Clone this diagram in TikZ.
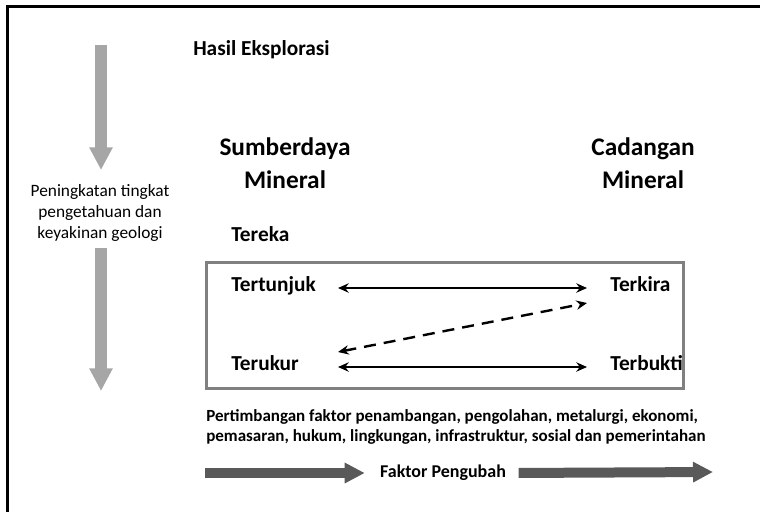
\documentclass[tikz,border=0pt]{standalone}
\usepackage{fontspec}
\setmainfont{Carlito}
\usetikzlibrary{calc,arrows.meta,positioning}

\begin{document}
\begin{tikzpicture}[x=0.75pt,y=-0.75pt,
    label/.style={font=\bfseries\fontsize{16}{19}\selectfont, inner sep=0pt, text height=1.5ex, text depth=.3ex},
    title/.style={font=\bfseries\fontsize{19}{24.75}\selectfont, align=center},
    link/.style={line width=1.8pt, {Stealth[length=8pt,width=7pt]}-{Stealth[length=8pt,width=7pt]}},
    downarrow/.style={line width=9pt, draw=gray!70, -{Triangle[length=17pt,width=16.5pt]}},
    factorarrow/.style={line width=7.5pt, draw=black!65, -{Triangle[length=15pt,width=14.5pt]}}]
    \useasboundingbox (0,0) rectangle (760,512);
    \draw[line width=2.25pt] (760,6) -- (7,6) -- (7,512);

    \node[font=\fontsize{13}{15.75}\selectfont, align=center] (knowledge) at (100,213) {Peningkatan tingkat\\pengetahuan dan\\keyakinan geologi};
    \coordinate (top1) at (101,45);
    \coordinate (tip1) at (101,170);
    \coordinate (top2) at (101,248);
    \coordinate (tip2) at (101,391);
    \draw[downarrow] (top1) -- (tip1);
    \draw[downarrow] (top2) -- (tip2);

    \node[font=\bfseries\fontsize{16}{19}\selectfont, anchor=west, inner sep=0pt] (hasil) at (193,50) {Hasil Eksplorasi};
    \node[title] (sumber) at (285,163) {Sumberdaya\\Mineral};
    \node[title] (cadangan) at (643,163) {Cadangan\\Mineral};
    \node[label, anchor=west] (tereka) at (231,238) {Tereka};

    \draw[line width=2.25pt, draw=black!50] (206,262) rectangle (683,388);
    \node[label, anchor=west] (tertunjuk) at (231,288) {Tertunjuk};
    \node[label, anchor=west] (terkira) at (610,288) {Terkira};
    \node[label, anchor=west] (terukur) at (231,367) {Terukur};
    \node[label, anchor=west] (terbukti) at (610,367) {Terbukti};

    \draw[link] ($(tertunjuk.east)+(22,0)$) -- ($(terkira.west)+(-23,0)$);
    \draw[link] ($(terukur.west -| tertunjuk.east)+(22,0)$) -- ($(terbukti.west)+(-23,0)$);
    \draw[link, dash pattern=on 9pt off 6pt] ($(terukur.west -| tertunjuk.east)+(22,-15)$) -- ($(terkira.west)+(-23,15)$);

    \node[font=\bfseries\fontsize{12.75}{15.5}\selectfont, align=left, anchor=north west, inner sep=0pt] (factors) at (206,409) {Pertimbangan faktor penambangan, pengolahan, metalurgi, ekonomi,\\pemasaran, hukum, lingkungan, infrastruktur, sosial dan pemerintahan};

    \node[font=\bfseries\fontsize{13.5}{16}\selectfont] (pengubah) at (443,473) {Faktor Pengubah};
    \coordinate (start) at (205,473);
    \coordinate (end) at (713,472);
    \draw[factorarrow, shorten >=8pt] (start) -- (pengubah.west);
    \draw[factorarrow, shorten <=6pt] (pengubah.east) -- (end);
\end{tikzpicture}
\end{document}
